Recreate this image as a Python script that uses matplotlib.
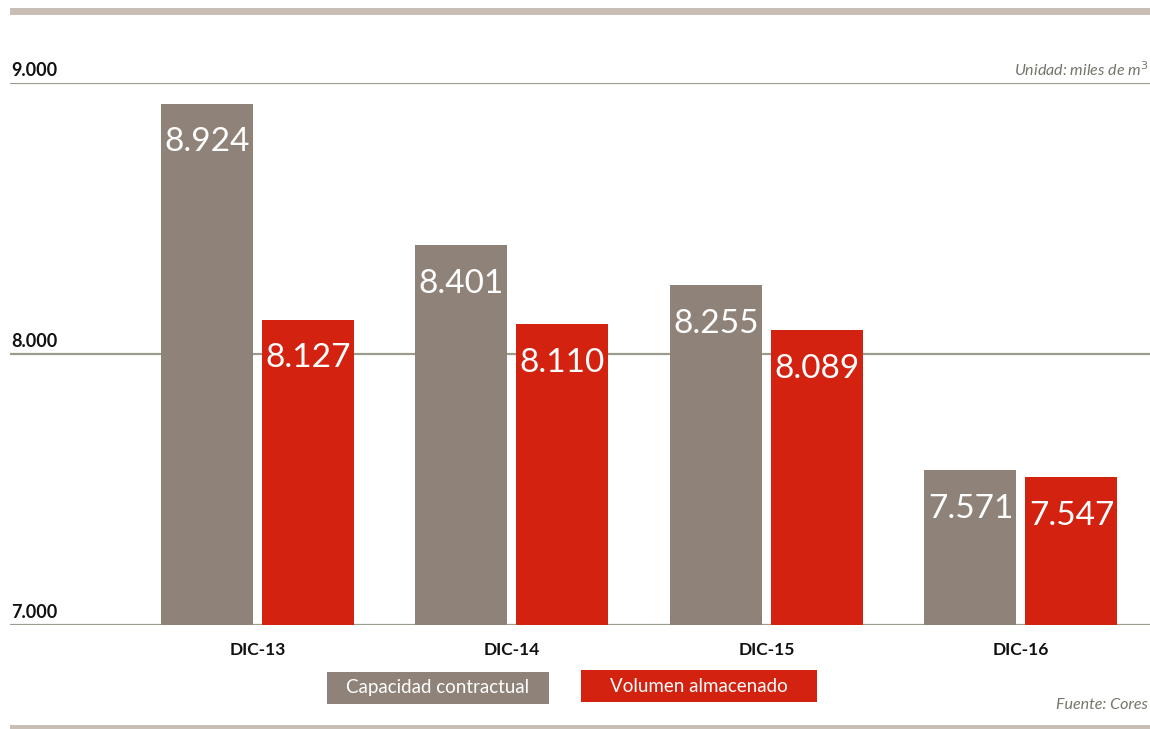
import matplotlib
matplotlib.use("Agg")
import matplotlib.pyplot as plt
from matplotlib.patches import Rectangle
import numpy as np

categories = ["DIC-13", "DIC-14", "DIC-15", "DIC-16"]
capacidad = [8924, 8401, 8255, 7571]
volumen = [8127, 8110, 8089, 7547]
yticks = [7000, 8000, 9000]
ytick_labels = ["7.000", "8.000", "9.000"]
series_names = ["Capacidad contractual", "Volumen almacenado"]

GRAY = "#8e8279"
RED = "#d42211"
STRIP = "#c8beb5"
GRID = "#9c9c8e"
NOTE = "#74746a"

plt.rcParams['font.family'] = ['Lato', 'DejaVu Sans']

W, H = 1150, 729
fig = plt.figure(figsize=(W / 100, H / 100), dpi=100)

def fx(px):
    return px / W

def fy(py):
    return 1 - py / H

ax = fig.add_axes([fx(10), fy(625), fx(1150) - fx(10), fy(83) - fy(625)])
ax.set_xlim(-0.9725, 3.507)
ax.set_ylim(7000, 9000)
for s in ax.spines.values():
    s.set_visible(False)
ax.set_xticks([])
ax.set_yticks([])

for t in yticks:
    ax.axhline(t, color=GRID, lw=1.6, zorder=1)

x = np.arange(len(categories))
bw = 92 / 254.5
off = (92 + 9) / 2 / 254.5

ax.bar(x - off, np.array(capacidad) - 7000, bw, bottom=7000, color=GRAY, zorder=2)
ax.bar(x + off, np.array(volumen) - 7000, bw, bottom=7000, color=RED, zorder=2)

def fmt(v):
    return f"{v:,}".replace(",", ".")

for xs, vals in ((x - off, capacidad), (x + off, volumen)):
    for xi, v in zip(xs, vals):
        ax.annotate(fmt(v), (xi, v), xytext=(0, -28), textcoords="offset points",
                    ha="center", va="center", color="white", fontsize=24, zorder=3)

for xi, c in zip(x, categories):
    ax.annotate(c, (xi, 7000), xytext=(0, -18), textcoords="offset points",
                ha="center", va="center", fontsize=12.5, fontweight="bold", color="#111111")

for t, lab in zip(yticks, ytick_labels):
    ax.annotate(lab, (-0.9725, t), xytext=(1, 3), textcoords="offset points",
                ha="left", va="bottom", fontsize=13, fontweight="bold", color="#111111")

# top and bottom strips
fig.add_artist(Rectangle((fx(10), fy(15)), fx(1150) - fx(10), fy(8) - fy(15),
                         transform=fig.transFigure, color=STRIP, lw=0))
fig.add_artist(Rectangle((fx(10), fy(729)), fx(1150) - fx(10), fy(725) - fy(729),
                         transform=fig.transFigure, color=STRIP, lw=0))

fig.text(fx(1148), fy(70), "Unidad: miles de m$^3$", ha="right", va="center",
         fontsize=11.5, style="italic", color=NOTE)
fig.text(fx(1148), fy(705), "Fuente: Cores", ha="right", va="center",
         fontsize=11.5, style="italic", color=NOTE)

# legend boxes
fig.add_artist(Rectangle((fx(327), fy(704)), fx(549) - fx(327), fy(672) - fy(704),
                         transform=fig.transFigure, color=GRAY, lw=0))
fig.text(fx(438), fy(688), series_names[0], ha="center", va="center",
         fontsize=13.5, color="white")
fig.add_artist(Rectangle((fx(581), fy(702)), fx(817) - fx(581), fy(670) - fy(702),
                         transform=fig.transFigure, color=RED, lw=0))
fig.text(fx(699), fy(686), series_names[1], ha="center", va="center",
         fontsize=13.5, color="white")

fig.savefig("out.png", dpi=100)
